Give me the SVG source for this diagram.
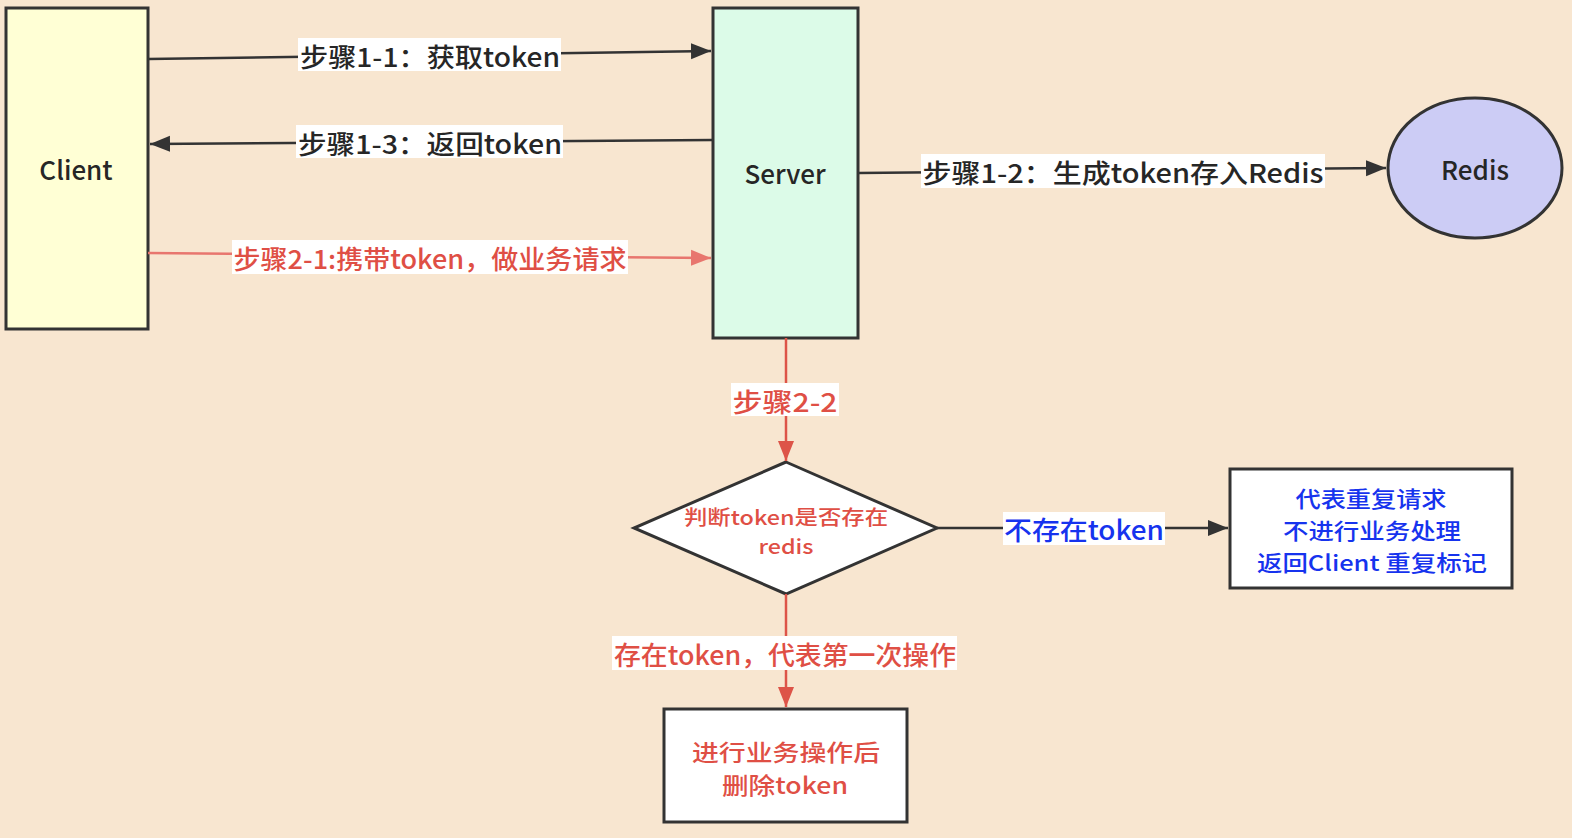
<svg xmlns="http://www.w3.org/2000/svg" width="1572" height="838" viewBox="0 0 1572 838">
<style>
.t{font-family:"Noto Sans CJK SC","Liberation Sans",sans-serif;dominant-baseline:central;text-anchor:middle;font-weight:500}
.dk{fill:#262626}
.rd{fill:#df4f45}
.bl{fill:#1633ee}
.node{stroke:#333;stroke-width:3}
.bg{fill:#ffffff}
.ln{stroke:#333;stroke-width:2.5;fill:none}
.lr{stroke:#dd5448;stroke-width:2.5;fill:none}
.lp{stroke:#e8766e;stroke-width:2.5;fill:none}
</style>
<defs>
<marker id="ab" markerUnits="userSpaceOnUse" markerWidth="22" markerHeight="18" refX="20" refY="8" orient="auto" viewBox="0 0 22 16"><path d="M0,0 L20,8 L0,16 z" fill="#333"/></marker>
<marker id="ar" markerUnits="userSpaceOnUse" markerWidth="22" markerHeight="18" refX="20" refY="8" orient="auto" viewBox="0 0 22 16"><path d="M0,0 L20,8 L0,16 z" fill="#dd5448"/></marker>
<marker id="ap" markerUnits="userSpaceOnUse" markerWidth="22" markerHeight="18" refX="20" refY="8" orient="auto" viewBox="0 0 22 16"><path d="M0,0 L20,8 L0,16 z" fill="#e8766e"/></marker>
</defs>
<rect x="0" y="0" width="1572" height="838" fill="#f8e6d0"/>

<g id="client"><rect class="node" x="6" y="8" width="142" height="321" fill="#ffffd5"/><text class="t dk" x="76" y="168" font-size="26">Client</text></g>
<g id="server"><rect class="node" x="713" y="8" width="145" height="330" fill="#dcfbe8"/><text class="t dk" x="785" y="172" font-size="26">Server</text></g>
<g id="redis"><ellipse class="node" cx="1475" cy="168" rx="87" ry="70" fill="#ccccf5"/><text class="t dk" x="1475" y="168" font-size="26">Redis</text></g>
<g id="decision"><polygon class="node" points="786,462 937,528 786,594 634,528" fill="#ffffff"/><text class="t rd" x="786" y="516" font-size="20" textLength="204" lengthAdjust="spacingAndGlyphs">判断token是否存在</text><text class="t rd" x="786" y="545" font-size="20" textLength="55" lengthAdjust="spacingAndGlyphs">redis</text></g>
<g id="duplicate"><rect class="node" x="1230" y="469" width="282" height="119" fill="#ffffff"/><text class="t bl" x="1371" y="497" font-size="22" textLength="151" lengthAdjust="spacingAndGlyphs">代表重复请求</text><text class="t bl" x="1372" y="529" font-size="22" textLength="178" lengthAdjust="spacingAndGlyphs">不进行业务处理</text><text class="t bl" x="1372" y="561" font-size="22" textLength="230" lengthAdjust="spacingAndGlyphs">返回Client 重复标记</text></g>
<g id="process"><rect class="node" x="664" y="709" width="243" height="113" fill="#ffffff"/><text class="t rd" x="786" y="751" font-size="22.5" textLength="188" lengthAdjust="spacingAndGlyphs">进行业务操作后</text><text class="t rd" x="785" y="784" font-size="22.5" textLength="126" lengthAdjust="spacingAndGlyphs">删除token</text></g>

<g id="connectors">
<line class="ln" x1="148" y1="59" x2="711" y2="51" marker-end="url(#ab)"/>
<line class="ln" x1="713" y1="140" x2="150" y2="144" marker-end="url(#ab)"/>
<line class="lp" x1="148" y1="253" x2="711" y2="258" marker-end="url(#ap)"/>
<line class="ln" x1="858" y1="173" x2="1386" y2="168" marker-end="url(#ab)"/>
<line class="lr" x1="786" y1="338" x2="786" y2="461" marker-end="url(#ar)"/>
<line class="ln" x1="937" y1="528" x2="1228" y2="528" marker-end="url(#ab)"/>
<line class="lr" x1="786" y1="594" x2="786" y2="707" marker-end="url(#ar)"/>

<rect class="bg" x="298" y="38" width="263" height="33"/><text class="t dk" x="430" y="55" font-size="26" textLength="260" lengthAdjust="spacingAndGlyphs">步骤1-1：获取token</text>
<rect class="bg" x="296" y="125" width="267" height="33"/><text class="t dk" x="430" y="142" font-size="26" textLength="264" lengthAdjust="spacingAndGlyphs">步骤1-3：返回token</text>
<rect class="bg" x="232" y="240" width="396" height="34"/><text class="t rd" x="430" y="257" font-size="26" textLength="393" lengthAdjust="spacingAndGlyphs">步骤2-1:携带token，做业务请求</text>
<rect class="bg" x="921" y="154" width="404" height="34"/><text class="t dk" x="1123" y="171" font-size="26" textLength="401" lengthAdjust="spacingAndGlyphs">步骤1-2：生成token存入Redis</text>
<rect class="bg" x="731" y="383" width="108" height="33"/><text class="t rd" x="785" y="400" font-size="26" textLength="105" lengthAdjust="spacingAndGlyphs">步骤2-2</text>
<rect class="bg" x="1003" y="512" width="162" height="33"/><text class="t bl" x="1084" y="528" font-size="26" textLength="160" lengthAdjust="spacingAndGlyphs">不存在token</text>
<rect class="bg" x="612" y="636" width="345" height="34"/><text class="t rd" x="785" y="653" font-size="26" textLength="342" lengthAdjust="spacingAndGlyphs">存在token，代表第一次操作</text>
</g>
</svg>
